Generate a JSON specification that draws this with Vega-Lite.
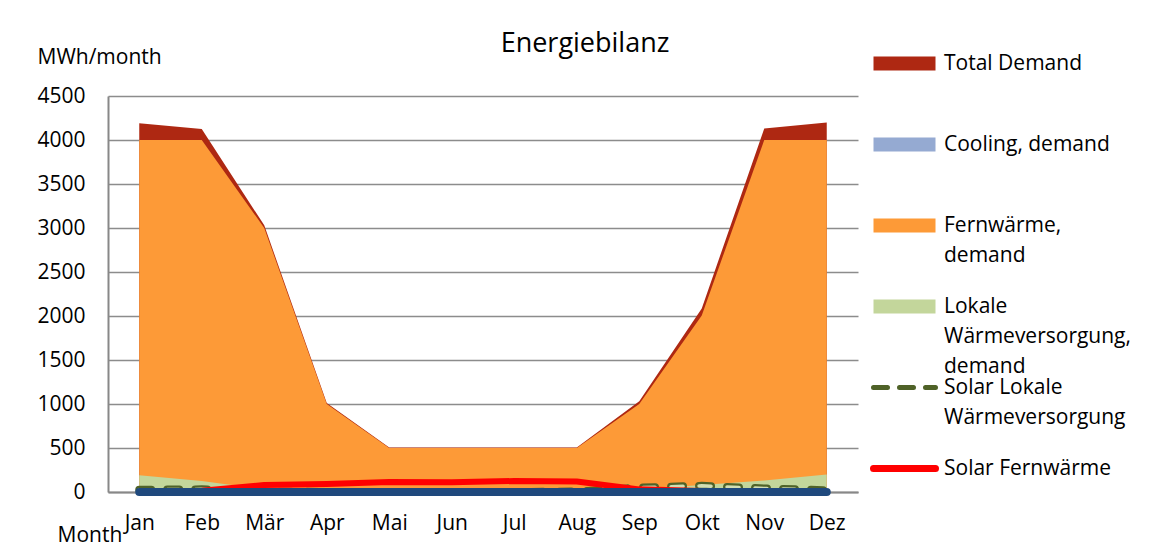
{
  "$schema": "https://vega.github.io/schema/vega-lite/v6.json",
  "width": 750,
  "height": 396,
  "autosize": {"type": "none"},
  "padding": {"left": 108, "top": 96, "right": 299, "bottom": 55},
  "background": "white",
  "config": {
    "font": "Open Sans",
    "view": {"stroke": null},
    "axis": {"labelFont": "Open Sans", "titleFont": "Open Sans", "labelColor": "#000000", "titleColor": "#000000", "titleFontWeight": "normal"},
    "legend": {"labelFont": "Open Sans"}
  },
  "title": {
    "text": "Energiebilanz",
    "font": "Open Sans",
    "fontSize": 27,
    "fontWeight": "normal",
    "color": "#000000",
    "anchor": "middle",
    "frame": "group",
    "baseline": "alphabetic",
    "offset": 0,
    "dy": 33,
    "dx": 102
  },
  "data": {
    "values": [
      {"month": "Jan", "series": "Total Demand", "value": 4190},
      {"month": "Feb", "series": "Total Demand", "value": 4125},
      {"month": "Mär", "series": "Total Demand", "value": 3030},
      {"month": "Apr", "series": "Total Demand", "value": 1010},
      {"month": "Mai", "series": "Total Demand", "value": 505},
      {"month": "Jun", "series": "Total Demand", "value": 505},
      {"month": "Jul", "series": "Total Demand", "value": 505},
      {"month": "Aug", "series": "Total Demand", "value": 505},
      {"month": "Sep", "series": "Total Demand", "value": 1030},
      {"month": "Okt", "series": "Total Demand", "value": 2085},
      {"month": "Nov", "series": "Total Demand", "value": 4130},
      {"month": "Dez", "series": "Total Demand", "value": 4200},
      {"month": "Jan", "series": "Cooling, demand", "value": 0},
      {"month": "Feb", "series": "Cooling, demand", "value": 0},
      {"month": "Mär", "series": "Cooling, demand", "value": 0},
      {"month": "Apr", "series": "Cooling, demand", "value": 0},
      {"month": "Mai", "series": "Cooling, demand", "value": 0},
      {"month": "Jun", "series": "Cooling, demand", "value": 0},
      {"month": "Jul", "series": "Cooling, demand", "value": 0},
      {"month": "Aug", "series": "Cooling, demand", "value": 0},
      {"month": "Sep", "series": "Cooling, demand", "value": 0},
      {"month": "Okt", "series": "Cooling, demand", "value": 0},
      {"month": "Nov", "series": "Cooling, demand", "value": 0},
      {"month": "Dez", "series": "Cooling, demand", "value": 0},
      {"month": "Jan", "series": "Fernwärme, demand", "value": 4000},
      {"month": "Feb", "series": "Fernwärme, demand", "value": 4000},
      {"month": "Mär", "series": "Fernwärme, demand", "value": 3000},
      {"month": "Apr", "series": "Fernwärme, demand", "value": 1000},
      {"month": "Mai", "series": "Fernwärme, demand", "value": 500},
      {"month": "Jun", "series": "Fernwärme, demand", "value": 500},
      {"month": "Jul", "series": "Fernwärme, demand", "value": 500},
      {"month": "Aug", "series": "Fernwärme, demand", "value": 500},
      {"month": "Sep", "series": "Fernwärme, demand", "value": 1000},
      {"month": "Okt", "series": "Fernwärme, demand", "value": 2005},
      {"month": "Nov", "series": "Fernwärme, demand", "value": 4000},
      {"month": "Dez", "series": "Fernwärme, demand", "value": 4000},
      {"month": "Jan", "series": "Lokale Wärmeversorgung, demand", "value": 190},
      {"month": "Feb", "series": "Lokale Wärmeversorgung, demand", "value": 125},
      {"month": "Mär", "series": "Lokale Wärmeversorgung, demand", "value": 30},
      {"month": "Apr", "series": "Lokale Wärmeversorgung, demand", "value": 10},
      {"month": "Mai", "series": "Lokale Wärmeversorgung, demand", "value": 5},
      {"month": "Jun", "series": "Lokale Wärmeversorgung, demand", "value": 5},
      {"month": "Jul", "series": "Lokale Wärmeversorgung, demand", "value": 5},
      {"month": "Aug", "series": "Lokale Wärmeversorgung, demand", "value": 5},
      {"month": "Sep", "series": "Lokale Wärmeversorgung, demand", "value": 30},
      {"month": "Okt", "series": "Lokale Wärmeversorgung, demand", "value": 80},
      {"month": "Nov", "series": "Lokale Wärmeversorgung, demand", "value": 130},
      {"month": "Dez", "series": "Lokale Wärmeversorgung, demand", "value": 200},
      {"month": "Jan", "series": "Solar Lokale Wärmeversorgung", "value": 25},
      {"month": "Feb", "series": "Solar Lokale Wärmeversorgung", "value": 30},
      {"month": "Mär", "series": "Solar Lokale Wärmeversorgung", "value": 5},
      {"month": "Apr", "series": "Solar Lokale Wärmeversorgung", "value": 0},
      {"month": "Mai", "series": "Solar Lokale Wärmeversorgung", "value": 0},
      {"month": "Jun", "series": "Solar Lokale Wärmeversorgung", "value": 0},
      {"month": "Jul", "series": "Solar Lokale Wärmeversorgung", "value": 0},
      {"month": "Aug", "series": "Solar Lokale Wärmeversorgung", "value": 5},
      {"month": "Sep", "series": "Solar Lokale Wärmeversorgung", "value": 50},
      {"month": "Okt", "series": "Solar Lokale Wärmeversorgung", "value": 70},
      {"month": "Nov", "series": "Solar Lokale Wärmeversorgung", "value": 40},
      {"month": "Dez", "series": "Solar Lokale Wärmeversorgung", "value": 20},
      {"month": "Jan", "series": "Solar Fernwärme", "value": 0},
      {"month": "Feb", "series": "Solar Fernwärme", "value": 15},
      {"month": "Mär", "series": "Solar Fernwärme", "value": 80},
      {"month": "Apr", "series": "Solar Fernwärme", "value": 90},
      {"month": "Mai", "series": "Solar Fernwärme", "value": 115},
      {"month": "Jun", "series": "Solar Fernwärme", "value": 110},
      {"month": "Jul", "series": "Solar Fernwärme", "value": 125},
      {"month": "Aug", "series": "Solar Fernwärme", "value": 120},
      {"month": "Sep", "series": "Solar Fernwärme", "value": 30},
      {"month": "Okt", "series": "Solar Fernwärme", "value": 10},
      {"month": "Nov", "series": "Solar Fernwärme", "value": 5},
      {"month": "Dez", "series": "Solar Fernwärme", "value": 0}
    ]
  },
  "encoding": {
    "x": {
      "field": "month",
      "type": "ordinal",
      "sort": ["Jan", "Feb", "Mär", "Apr", "Mai", "Jun", "Jul", "Aug", "Sep", "Okt", "Nov", "Dez"],
      "scale": {"type": "point", "padding": 0.5},
      "axis": {
        "title": "Month",
        "titleFontSize": 21,
        "titleAngle": 0,
        "titleAlign": "left",
        "titleBaseline": "middle",
        "titleX": -51,
        "titleY": 43,
        "labelAngle": 0,
        "labelFontSize": 21,
        "labelPadding": 20,
        "ticks": false,
        "tickSize": 0,
        "grid": false,
        "domainColor": "#888888",
        "domainWidth": 2
      }
    },
    "y": {
      "field": "value",
      "type": "quantitative",
      "scale": {"domain": [0, 4500], "nice": false, "zero": true},
      "axis": {
        "title": "MWh/month",
        "titleFontSize": 21,
        "titleAngle": 0,
        "titleAlign": "left",
        "titleBaseline": "middle",
        "titleX": -71,
        "titleY": -39,
        "values": [0, 500, 1000, 1500, 2000, 2500, 3000, 3500, 4000, 4500],
        "format": "d",
        "labelFontSize": 21,
        "labelPadding": 23,
        "ticks": false,
        "tickSize": 0,
        "grid": true,
        "gridColor": "#8c8c8c",
        "gridWidth": 1.5,
        "domainColor": "#888888",
        "domainWidth": 2
      }
    },
    "color": {
      "field": "series",
      "type": "nominal",
      "scale": {
        "domain": ["Total Demand", "Cooling, demand", "Fernwärme, demand", "Lokale Wärmeversorgung, demand", "Solar Lokale Wärmeversorgung", "Solar Fernwärme"],
        "range": ["#AE2812", "#95AAD2", "#FD9A37", "#C3D69B", "#4F6228", "#FF0000"]
      },
      "legend": {
        "title": null,
        "orient": "none",
        "legendX": 786,
        "legendY": -43,
        "padding": 0,
        "labelFontSize": 21,
        "labelColor": "#000000",
        "labelLimit": 0,
        "labelOffset": 29,
        "labelBaseline": "middle",
        "symbolSize": 3844,
        "gridAlign": "all",
        "rowPadding": -4,
        "labelExpr": "datum.label == 'Fernwärme, demand' ? ['Fernwärme,', 'demand'] : datum.label == 'Lokale Wärmeversorgung, demand' ? ['Lokale', 'Wärmeversorgung,', 'demand'] : datum.label == 'Solar Lokale Wärmeversorgung' ? ['Solar Lokale', 'Wärmeversorgung'] : datum.label",
        "encode": {
          "symbols": {
            "update": {
              "shape": {"signal": "(datum.value == 'Solar Fernwärme' || datum.value == 'Solar Lokale Wärmeversorgung') ? 'M-1,0H1' : 'M-1,-0.226H1V0.226H-1Z'"},
              "fill": {"signal": "(datum.value == 'Solar Fernwärme' || datum.value == 'Solar Lokale Wärmeversorgung') ? 'transparent' : scale('color', datum.value)"},
              "stroke": {"signal": "datum.value == 'Solar Fernwärme' ? '#FF0000' : datum.value == 'Solar Lokale Wärmeversorgung' ? '#4F6228' : 'transparent'"},
              "strokeWidth": {"signal": "datum.value == 'Solar Fernwärme' ? 7 : datum.value == 'Solar Lokale Wärmeversorgung' ? 5 : 0"},
              "strokeDash": {"signal": "datum.value == 'Solar Lokale Wärmeversorgung' ? [14, 12] : [1, 0]"},
              "strokeCap": {"value": "round"},
              "opacity": {"value": 1}
            }
          },
          "labels": {
            "update": {
              "lineHeight": {"value": 30}
            }
          }
        }
      }
    }
  },
  "layer": [
    {
      "transform": [{"filter": "datum.series == 'Total Demand'"}],
      "mark": {"type": "area", "opacity": 1}
    },
    {
      "transform": [{"filter": "datum.series == 'Cooling, demand'"}],
      "mark": {"type": "area", "opacity": 1}
    },
    {
      "transform": [{"filter": "datum.series == 'Fernwärme, demand'"}],
      "mark": {"type": "area", "opacity": 1}
    },
    {
      "transform": [{"filter": "datum.series == 'Lokale Wärmeversorgung, demand'"}],
      "mark": {"type": "area", "opacity": 1}
    },
    {
      "transform": [{"filter": "datum.series == 'Solar Lokale Wärmeversorgung'"}],
      "mark": {"type": "line", "strokeWidth": 8, "strokeCap": "round", "strokeDash": [12, 16]}
    },
    {
      "transform": [{"filter": "datum.series == 'Solar Lokale Wärmeversorgung'"}],
      "mark": {"type": "line", "strokeWidth": 3.5, "strokeCap": "round", "strokeDash": [12, 16]},
      "encoding": {"color": {"value": "#D2DEB4"}}
    },
    {
      "transform": [{"filter": "datum.series == 'Solar Fernwärme'"}],
      "mark": {"type": "line", "strokeWidth": 6, "strokeJoin": "round"}
    },
    {
      "transform": [{"filter": "datum.series == 'Cooling, demand'"}],
      "mark": {"type": "line", "strokeWidth": 8, "strokeCap": "round"},
      "encoding": {"color": {"value": "#1F497D"}}
    }
  ]
}
